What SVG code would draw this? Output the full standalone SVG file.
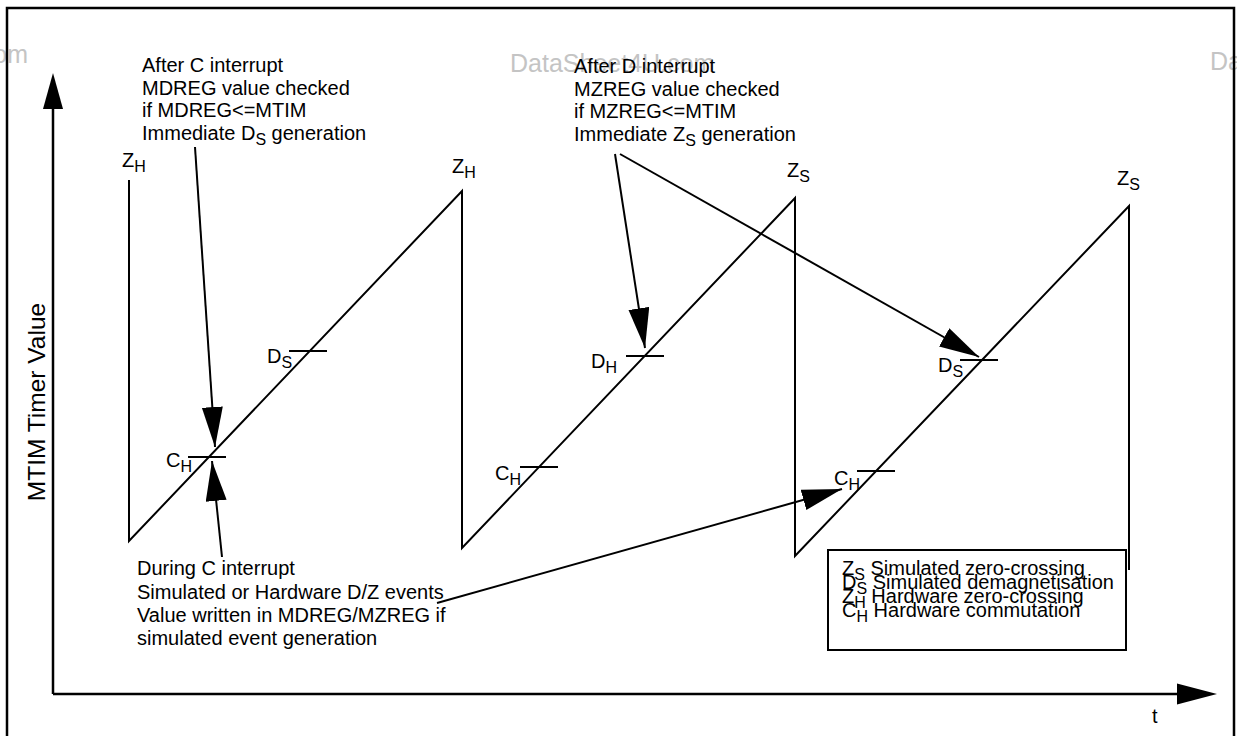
<svg xmlns="http://www.w3.org/2000/svg" width="1237" height="736" viewBox="0 0 1237 736">
<style>
text{font-family:"Liberation Sans",Arial,sans-serif;font-size:20px;fill:#000}
.sub{font-size:16px}
.wm{font-size:25px;fill:#c4c4c4}
.ln{stroke:#000;stroke-width:2;fill:none}
.ax{stroke:#000;stroke-width:2.5;fill:none}
.arr{stroke:#000;stroke-width:2;fill:none;marker-end:url(#ah)}
</style>
<defs>
<marker id="ah" markerUnits="userSpaceOnUse" markerWidth="42" markerHeight="22" refX="40" refY="10.5" orient="auto"><path d="M0,0 L40,10.5 L0,21 z" fill="#000"/></marker>
</defs>
<rect width="1237" height="736" fill="#fff"/>
<g id="watermark">
<text class="wm" x="28" y="63" text-anchor="end">DataSheet4U.com</text>
<text class="wm" x="510" y="72">DataSheet4U.com</text>
<text class="wm" x="1210" y="70">DataSheet4U.com</text>
</g>
<g id="frame"><path class="ax" d="M7,740 V8 H1234 V740"/></g>
<g id="axes">
<path class="ax" d="M53,694 V105 M53,694 H1180"/>
<polygon points="53,73 43,109 63,109" fill="#000"/>
<polygon points="1217,694 1177,683.5 1177,704.5" fill="#000"/>
<text x="37" y="402" text-anchor="middle" transform="rotate(-90 37 402)" dy="8" style="font-size:24.5px">MTIM Timer Value</text>
<text x="1152" y="723">t</text>
</g>
<g id="sawtooth">
<path class="ln" d="M129,180 V541 L462,191 V548 L795,198 V556 L1129,206 V570"/>
<path class="ln" d="M188,457 H226 M289,351 H327 M626,356 H664 M520,467 H558 M857,471 H895 M960,360 H998"/>
</g>
<g id="labels">
<text x="122" y="167">Z<tspan class="sub" dy="5">H</tspan></text>
<text x="452" y="173">Z<tspan class="sub" dy="5">H</tspan></text>
<text x="787" y="177">Z<tspan class="sub" dy="5">S</tspan></text>
<text x="1117" y="185">Z<tspan class="sub" dy="5">S</tspan></text>
<text x="267" y="363">D<tspan class="sub" dy="5">S</tspan></text>
<text x="166" y="467">C<tspan class="sub" dy="5">H</tspan></text>
<text x="591" y="368">D<tspan class="sub" dy="5">H</tspan></text>
<text x="495" y="480">C<tspan class="sub" dy="5">H</tspan></text>
<text x="834" y="485">C<tspan class="sub" dy="5">H</tspan></text>
<text x="938" y="372">D<tspan class="sub" dy="5">S</tspan></text>
</g>
<g id="note-after-c">
<text x="142" y="72">After C interrupt</text>
<text x="142" y="94.7">MDREG value checked</text>
<text x="142" y="117.4">if MDREG&lt;=MTIM</text>
<text x="142" y="140.1">Immediate D<tspan class="sub" dy="5">S</tspan><tspan dy="-5"> generation</tspan></text>
</g>
<g id="note-after-d">
<text x="574" y="73">After D interrupt</text>
<text x="574" y="95.7">MZREG value checked</text>
<text x="574" y="118.4">if MZREG&lt;=MTIM</text>
<text x="574" y="141.1">Immediate Z<tspan class="sub" dy="5">S</tspan><tspan dy="-5"> generation</tspan></text>
</g>
<g id="note-during-c">
<text x="137" y="575">During C interrupt</text>
<text x="137" y="598.5">Simulated or Hardware D/Z events</text>
<text x="137" y="622">Value written in MDREG/MZREG if</text>
<text x="137" y="645">simulated event generation</text>
</g>
<g id="legend">
<rect x="828" y="550" width="298" height="100" class="ln"/>
<text x="842" y="575">Z<tspan class="sub" dy="5">S</tspan><tspan dy="-5"> Simulated zero-crossing</tspan></text>
<text x="842" y="589">D<tspan class="sub" dy="5">S</tspan><tspan dy="-5"> Simulated demagnetisation</tspan></text>
<text x="842" y="603">Z<tspan class="sub" dy="5">H</tspan><tspan dy="-5"> Hardware zero-crossing</tspan></text>
<text x="842" y="617">C<tspan class="sub" dy="5">H</tspan><tspan dy="-5"> Hardware commutation</tspan></text>
</g>
<g id="connectors">
<path class="arr" d="M195,147 L215,447"/>
<path class="arr" d="M222,557 L212,461"/>
<path class="arr" d="M615,154 L645,348"/>
<path class="arr" d="M620,154 L979,357"/>
<path class="arr" d="M437,603 L842,489"/>
</g>
</svg>
